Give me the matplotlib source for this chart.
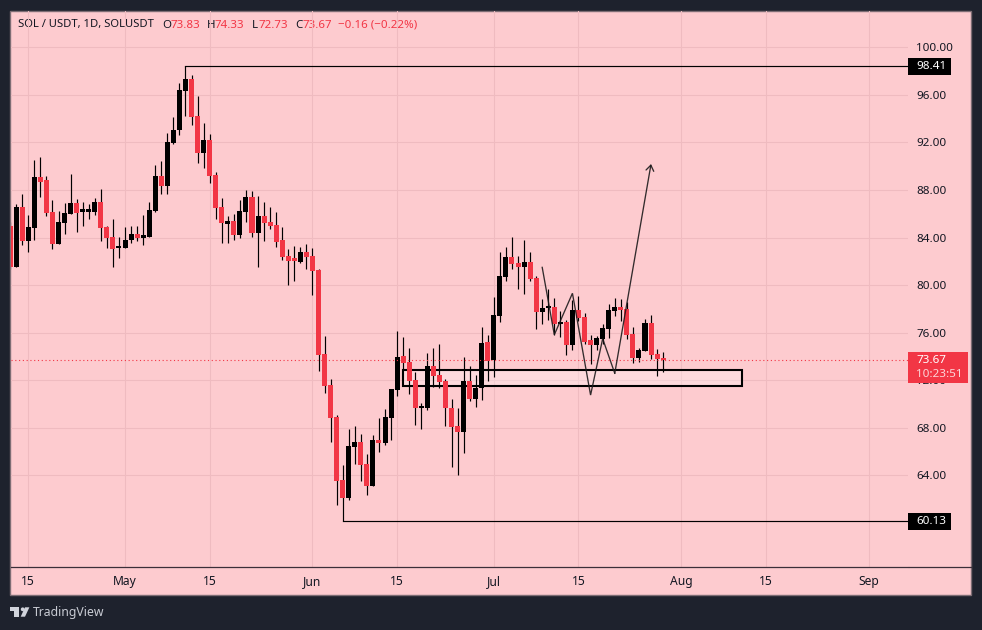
import matplotlib
matplotlib.use('Agg')
import matplotlib.pyplot as plt
import matplotlib.patches as patches
import matplotlib.dates as mdates
import pandas as pd

plt.rcParams['font.family'] = ['Noto Sans', 'DejaVu Sans']

# daily candles from 12 Apr
opens = [85.0, 81.5, 86.58, 83.67, 84.83, 89.08, 88.83, 86.17, 83.42, 85.25,
         86.0, 86.92, 86.17, 86.17, 86.17, 87.0, 84.92, 84.08, 83.08, 83.08,
         83.75, 84.33, 83.92, 84.08, 86.25, 89.17, 88.33, 91.92, 93.0, 96.33,
         97.33, 94.25, 91.08, 92.17, 89.25, 86.58, 85.17, 85.42, 84.25, 86.18,
         87.44, 84.41, 85.84, 85.34, 85.08, 83.82, 82.47, 82.14, 81.97, 82.81,
         82.47, 81.3, 74.23, 71.62, 68.93, 63.62, 62.11, 66.4, 66.82, 64.97,
         63.12, 66.99, 66.74, 68.82, 71.17, 74.03, 73.52, 72.01, 69.66, 69.66,
         73.19, 72.43, 71.93, 69.66, 68.15, 67.64, 71.93, 70.41, 71.34, 75.2,
         73.69, 77.39, 80.67, 82.35, 81.84, 81.51, 81.93, 80.58, 77.73, 78.06,
         78.15, 76.72, 76.89, 74.95, 77.89, 77.31, 75.37, 74.95, 75.46, 76.3,
         77.81, 78.15, 77.98, 75.88, 73.86, 74.45, 76.8, 74.2, 73.83]
closes = [81.5, 86.58, 83.67, 84.92, 89.08, 88.67, 86.08, 83.42, 85.33, 86.08,
          86.92, 86.08, 86.25, 86.25, 87.0, 84.83, 84.0, 83.0, 83.17, 83.83,
          84.33, 83.92, 84.17, 86.33, 89.17, 88.33, 92.0, 93.08, 96.42, 97.33,
          94.17, 91.08, 92.17, 89.17, 86.5, 85.25, 85.42, 84.25, 86.25, 87.44,
          84.41, 85.84, 85.25, 85.0, 83.65, 82.39, 82.05, 82.05, 82.81, 82.39,
          81.21, 74.14, 71.53, 68.84, 63.54, 62.11, 66.48, 66.82, 64.89, 63.12,
          66.99, 66.74, 68.93, 71.25, 73.94, 73.44, 71.93, 69.66, 69.74, 73.19,
          72.35, 71.84, 69.66, 68.06, 67.64, 71.93, 70.41, 71.34, 75.12, 73.64,
          77.47, 80.75, 82.35, 81.76, 81.51, 81.93, 80.5, 77.73, 78.06, 78.15,
          76.72, 76.89, 74.95, 77.89, 77.22, 75.2, 74.95, 75.54, 76.38, 77.89,
          78.15, 77.89, 75.79, 73.86, 74.53, 76.8, 74.11, 73.78, 73.67]
highs = [85.3, 86.83, 87.67, 85.92, 90.5, 90.75, 89.17, 87.17, 86.25, 86.92,
         89.33, 87.25, 87.0, 86.83, 87.33, 88.08, 85.0, 85.58, 84.08, 84.92,
         85.0, 85.0, 85.92, 87.0, 90.08, 90.42, 92.83, 94.17, 97.0, 98.41,
         97.67, 95.92, 93.67, 92.67, 89.5, 87.33, 85.83, 86.0, 87.17, 88.03,
         87.94, 87.52, 87.02, 86.6, 86.18, 84.91, 83.06, 83.32, 83.23, 83.48,
         83.15, 81.38, 75.74, 72.12, 69.09, 64.89, 67.92, 68.17, 67.49, 65.81,
         67.41, 68.84, 69.59, 71.25, 76.13, 75.62, 74.7, 72.68, 70.08, 74.28,
         74.7, 75.04, 72.1, 70.41, 69.66, 73.94, 73.19, 72.43, 76.46, 75.79,
         78.99, 82.77, 83.19, 84.03, 82.43, 83.78, 82.77, 80.75, 78.82, 79.66,
         78.9, 77.81, 77.05, 78.73, 79.07, 77.64, 75.79, 75.71, 76.72, 78.4,
         78.9, 78.82, 78.57, 76.46, 74.7, 77.14, 77.47, 74.62, 74.33]
lows = [81.33, 81.5, 83.33, 82.75, 83.83, 87.42, 85.83, 83.0, 83.42, 84.33,
        86.0, 84.5, 85.0, 85.58, 85.92, 83.67, 83.08, 81.5, 82.25, 83.08,
        83.5, 83.67, 83.33, 84.08, 86.17, 87.67, 87.67, 91.83, 92.58, 94.25,
        93.5, 90.25, 89.83, 88.58, 85.58, 83.58, 83.58, 83.75, 83.92, 85.33,
        84.07, 81.55, 83.74, 84.75, 83.23, 82.14, 80.03, 80.37, 81.88, 81.38,
        79.19, 72.8, 70.95, 66.82, 61.52, 60.13, 61.94, 64.97, 63.54, 62.36,
        63.12, 65.98, 66.57, 66.97, 70.67, 72.85, 70.83, 68.23, 67.89, 69.49,
        71.45, 71.34, 68.15, 64.7, 64.03, 65.88, 70.25, 69.74, 70.33, 71.93,
        72.26, 76.89, 80.33, 81.34, 79.66, 79.24, 80.33, 76.3, 76.72, 77.05,
        75.79, 75.62, 74.11, 74.53, 76.97, 75.04, 73.36, 74.53, 75.04, 75.54,
        77.39, 76.97, 75.46, 73.44, 73.52, 74.45, 73.78, 72.35, 72.73]

price_ticks = [64, 68, 72, 76, 80, 84, 88, 92, 96, 100]
time_ticks = ['2024-04-15', '2024-05-01', '2024-05-15', '2024-06-01', '2024-06-15',
              '2024-07-01', '2024-07-15', '2024-08-01', '2024-08-15', '2024-09-01']
time_labels = ['15', 'May', '15', 'Jun', '15', 'Jul', '15', 'Aug', '15', 'Sep']

range_high = 98.41
range_low = 60.13
last_price = 73.67
zone_dates = ['2024-06-16', '2024-08-11']
zone_prices = [71.54, 72.86]
path_dates = ['2024-07-09', '2024-07-11', '2024-07-14', '2024-07-17', '2024-07-19',
              '2024-07-21', '2024-07-27']
path_prices = [81.49, 75.82, 79.31, 70.75, 75.49, 72.58, 90.18]

BG = '#1e222d'
PINK = '#fdcbcf'
GRID = '#efbbc0'
RED = '#f23645'
INK = '#131722'
LINE = '#1c1a1b'
W, H = 982, 630


def to_num(days):
    return mdates.date2num(pd.to_datetime(days))


fig = plt.figure(figsize=(W / 100, H / 100), dpi=100, facecolor=BG)

# pane background and separators, in pixel coordinates
base = fig.add_axes([0, 0, 1, 1], zorder=0)
base.set_xlim(0, W)
base.set_ylim(H, 0)
base.axis('off')
base.add_patch(patches.Rectangle((10.5, 10.5), 961, 584, facecolor=PINK, edgecolor='#7d6d74', linewidth=1))
base.plot([908.8, 971], [567.4, 567.4], color='#3b2f39', linewidth=0.9)

# TradingView mark
logo = '#d1d4dc'
base.add_patch(patches.Polygon([(10, 607.3), (19.3, 607.3), (19.3, 616.7), (14.4, 616.7), (14.4, 611.4), (10, 611.4)],
                               color=logo, linewidth=0))
base.add_patch(patches.Circle((22.7, 609.3), 1.9, color=logo, linewidth=0))
base.add_patch(patches.Polygon([(25, 607.3), (29.4, 607.3), (25, 616.7), (20.7, 616.7)], color=logo, linewidth=0))
base.text(33, 612.5, 'TradingView', color='#c9ccd4', fontsize=8.8, va='center', ha='left')

# legend row
base.text(18, 25, 'SOL / USDT, 1D, SOLUSDT', color=INK, fontsize=8.1, va='center')
for lx, s, c in [(162, 'O', INK), (170.5, '73.83', RED), (207, 'H', INK), (215, '74.33', RED),
                 (252, 'L', INK), (258.5, '72.73', RED), (295, 'C', INK), (302.5, '73.67', RED),
                 (338.5, '\u22120.16 (\u22120.22%)', RED)]:
    base.text(lx, 25, s, color=c, fontsize=8.3, va='center')

ax = fig.add_axes([11 / W, 1 - 567 / H, 897 / W, 556 / H], zorder=1)
ax.patch.set_alpha(0)
for spine in ['top', 'left', 'right']:
    ax.spines[spine].set_visible(False)
ax.spines['bottom'].set_color('#3b2f39')
ax.spines['bottom'].set_linewidth(0.9)

dates = pd.date_range('2024-04-12', periods=len(opens))
x = mdates.date2num(dates)

# left edge sits 2.86 days before 15 Apr, right edge 145.5 days after
t0 = to_num('2024-04-15')
ax.set_xlim(t0 - 2.86, t0 + 145.5)
ax.set_ylim(56.29, 103.05)

ax.set_yticks(price_ticks)
ax.set_yticklabels([f'{p:.2f}' for p in price_ticks], fontsize=8.4, color=INK)
ax.yaxis.tick_right()
ax.set_xticks(to_num(time_ticks))
ax.set_xticklabels(time_labels, fontsize=8.7, color=INK)
ax.tick_params(axis='y', length=0, pad=6.1)
ax.tick_params(axis='x', length=0, pad=5.6)
ax.grid(True, color=GRID, linewidth=0.75, zorder=0)
ax.set_axisbelow(True)

# demand zone sits under the candles
zx = to_num(zone_dates)
ax.add_patch(patches.Rectangle((zx[0], zone_prices[0]), zx[1] - zx[0], zone_prices[1] - zone_prices[0],
                               facecolor=(1, 1, 1, 0.3), edgecolor='black', linewidth=1.5, zorder=2))

# candles: wicks are black for both directions
ax.vlines(x, lows, highs, color='black', linewidth=0.85, zorder=3)
bottoms = [min(o, c) for o, c in zip(opens, closes)]
heights = [max(abs(o - c), 0.2) for o, c in zip(opens, closes)]
colors = ['black' if c >= o else RED for o, c in zip(opens, closes)]
ax.bar(x, heights, bottom=bottoms, width=0.83, color=colors, linewidth=0, zorder=4)

# range rays
ax.plot([x[highs.index(range_high)], ax.get_xlim()[1]], [range_high, range_high], color='black', linewidth=0.85, zorder=5)
ax.plot([x[lows.index(range_low)], ax.get_xlim()[1]], [range_low, range_low], color='black', linewidth=0.85, zorder=5)

# last price line
ax.axhline(last_price, color=RED, linewidth=0.8, linestyle=(0, (1, 2.4)), zorder=5)

# projected path with an open arrow head on the final leg
px = to_num(path_dates)
ax.plot(px[:-1], path_prices[:-1], color=LINE, linewidth=0.95, alpha=0.9, zorder=6, solid_joinstyle='miter')
ax.annotate('', xy=(px[-1], path_prices[-1]), xytext=(px[-2], path_prices[-2]),
            arrowprops=dict(arrowstyle='->,head_length=0.4,head_width=0.28', color=LINE, lw=0.95,
                            shrinkA=0, shrinkB=0, alpha=0.9), zorder=6)

# price scale tags
yax = ax.get_yaxis_transform()
tag_h = 17 / 11.89
for p in [range_high, range_low]:
    ax.add_patch(patches.Rectangle((1.0, p - tag_h / 2), 43 / 897, tag_h, facecolor='black', edgecolor='none',
                                   transform=yax, clip_on=False, zorder=9))
    ax.text(1 + 8.3 / 897, p, f'{p:.2f}', color='white', fontsize=8.4, va='center', ha='left',
            transform=yax, clip_on=False, zorder=10)

ax.add_patch(patches.Rectangle((1.0, last_price - 22.3 / 11.89), 60 / 897, 31 / 11.89, facecolor=RED, edgecolor='none',
                               transform=yax, clip_on=False, zorder=9))
ax.text(1 + 8.3 / 897, last_price, f'{last_price:.2f}', color='white', fontsize=8.4, va='center', ha='left',
        transform=yax, clip_on=False, zorder=10)
ax.text(1 + 8.3 / 897, last_price - 14.6 / 11.89, '10:23:51', color='#fcd5d8', fontsize=8.4, va='center', ha='left',
        transform=yax, clip_on=False, zorder=10)

fig.savefig('out.png', dpi=100, facecolor=BG)
